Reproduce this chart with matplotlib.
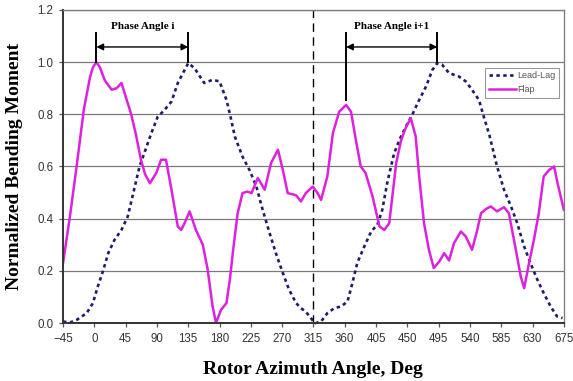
import numpy as np
import matplotlib
matplotlib.use('Agg')
import matplotlib.pyplot as plt

# Flap bending moment (deg, normalized)
flapDeg = [-45, -35, -25, -15, -6, -2, 3, 8, 15, 25, 32, 39, 46, 53, 60, 67, 73, 80,
           89, 96, 103, 111, 120, 125, 131, 137, 146, 156, 163, 170, 175, 182, 190,
           195, 200, 206, 213, 220, 226, 235, 245, 254, 264, 271, 278, 290, 297, 304,
           314, 321, 326, 335, 343, 352, 362, 369, 376, 383, 390, 400, 410, 417, 424,
           434, 441, 448, 455, 462, 467, 474, 481, 488, 496, 503, 510, 517, 527, 534,
           543, 550, 556, 563, 570, 579, 589, 596, 606, 613, 618, 625, 632, 639, 646,
           654, 661, 666, 675]
flapVal = [0.23, 0.41, 0.61, 0.82, 0.945, 0.98, 1.0, 0.98, 0.93, 0.894, 0.90, 0.92,
           0.86, 0.80, 0.72, 0.626, 0.57, 0.536, 0.575, 0.626, 0.626, 0.51, 0.37,
           0.357, 0.39, 0.428, 0.357, 0.30, 0.204, 0.064, 0.0, 0.05, 0.077, 0.17,
           0.29, 0.42, 0.498, 0.504, 0.498, 0.556, 0.511, 0.613, 0.664, 0.587, 0.498,
           0.49, 0.466, 0.498, 0.523, 0.498, 0.472, 0.562, 0.728, 0.81, 0.836, 0.81,
           0.702, 0.60, 0.575, 0.485, 0.37, 0.357, 0.383, 0.613, 0.70, 0.75, 0.785,
           0.715, 0.562, 0.383, 0.281, 0.211, 0.236, 0.268, 0.24, 0.306, 0.351, 0.332,
           0.281, 0.351, 0.421, 0.437, 0.447, 0.428, 0.444, 0.421, 0.281, 0.179,
           0.134, 0.23, 0.319, 0.421, 0.562, 0.587, 0.60, 0.536, 0.434]

# Lead-lag bending moment
lagDeg = [-45, -35, -25, -11, -2, 5, 13, 20, 29, 39, 48, 56, 65, 73, 82, 91, 101, 111,
          120, 135, 144, 158, 170, 180, 190, 195, 202, 213, 223, 233, 242, 252, 261,
          271, 280, 290, 297, 304, 314, 318, 326, 335, 345, 355, 364, 371, 378, 388,
          398, 407, 414, 421, 431, 440, 448, 457, 467, 477, 486, 493, 500, 510, 524,
          534, 543, 553, 560, 568, 579, 589, 599, 608, 618, 627, 637, 646, 656, 665, 673]
lagVal = [0.006, 0.002, 0.013, 0.038, 0.077, 0.14, 0.204, 0.268, 0.319, 0.357, 0.408,
          0.498, 0.60, 0.66, 0.728, 0.79, 0.817, 0.849, 0.92, 0.996, 0.977, 0.92,
          0.932, 0.926, 0.855, 0.80, 0.715, 0.638, 0.587, 0.523, 0.434, 0.345, 0.268,
          0.192, 0.128, 0.077, 0.057, 0.044, 0.01, 0.0, 0.006, 0.038, 0.057, 0.064,
          0.083, 0.153, 0.23, 0.293, 0.351, 0.377, 0.434, 0.536, 0.651, 0.71, 0.753,
          0.798, 0.855, 0.907, 0.97, 0.996, 0.99, 0.958, 0.945, 0.926, 0.894, 0.855,
          0.79, 0.72, 0.60, 0.511, 0.447, 0.383, 0.293, 0.23, 0.166, 0.115, 0.064,
          0.026, 0.019]

xTicks = list(range(-45, 676, 45))
yTicks = [0.0, 0.2, 0.4, 0.6, 0.8, 1.0, 1.2]

# phase angle markers: (start, end, start bar bottom, label)
phases = [(3, 135, 1.0, 'Phase Angle i'), (362, 493, 0.855, 'Phase Angle i+1')]
dividerDeg = 315

fig = plt.figure(figsize=(5.73, 3.81), dpi=100)
ax = fig.add_axes([0.110, 0.152, 0.874, 0.822])

ax.set_xlim(-45, 675)
ax.set_ylim(0, 1.2)
ax.set_yticks(yTicks)
ax.set_xticks(xTicks)
ax.set_yticklabels(['%.1f' % v for v in yTicks])
ax.yaxis.grid(True, color='#7a7a7a', lw=0.9)
ax.set_axisbelow(True)
for s in ax.spines.values():
    s.set_color('#808080')
    s.set_linewidth(1.0)
ax.spines['left'].set_color('#333333')
ax.spines['bottom'].set_color('#333333')
ax.spines['left'].set_linewidth(1.4)
ax.spines['bottom'].set_linewidth(1.4)
ax.tick_params(axis='both', direction='out', length=3, width=0.9, color='#555555',
               labelsize=8.3, labelcolor='#333333', pad=4)
for lbl in ax.get_xticklabels() + ax.get_yticklabels():
    lbl.set_family('Liberation Sans')

ax.plot(lagDeg, lagVal, color='#1c1c6a', lw=1.9, linestyle=(0, (1.3, 1.3)),
        label='Lead-Lag', clip_on=False)
ax.plot(flapDeg, flapVal, color='#dd22dd', lw=1.8, label='Flap',
        solid_joinstyle='round')

ax.axvline(dividerDeg, color='black', lw=1.0, linestyle=(0, (6, 4)))

for x0, x1, bottom0, text in phases:
    ax.plot([x0, x0], [bottom0, 1.11], color='black', lw=1.4)
    ax.plot([x1, x1], [1.0, 1.11], color='black', lw=1.4)
    ax.annotate('', xy=(x0, 1.058), xytext=(x1, 1.058),
                arrowprops=dict(arrowstyle='<|-|>', color='black', lw=1.0,
                                mutation_scale=10, shrinkA=0, shrinkB=0))
    ax.text((x0 + x1) / 2, 1.135, text, ha='center', va='center', fontsize=8,
            fontweight='bold', family='Liberation Serif')

leg = ax.legend(loc='upper right', bbox_to_anchor=(0.99, 0.815), fontsize=6.5,
                frameon=True, fancybox=False, handlelength=3.0, handletextpad=0.1,
                borderpad=0.4, labelspacing=0.5, borderaxespad=0)
leg.get_frame().set_edgecolor('#808080')
leg.get_frame().set_linewidth(0.8)
for t in leg.get_texts():
    t.set_color('#555555')
    t.set_family('Liberation Sans')

ax.set_xlabel('Rotor Azimuth Angle, Deg', fontsize=14, fontweight='bold',
              family='Liberation Serif', labelpad=12)
ax.set_ylabel('Normalized Bending Moment', fontsize=14, fontweight='bold',
              family='Liberation Serif', labelpad=10)

fig.savefig('out.png', dpi=100)
